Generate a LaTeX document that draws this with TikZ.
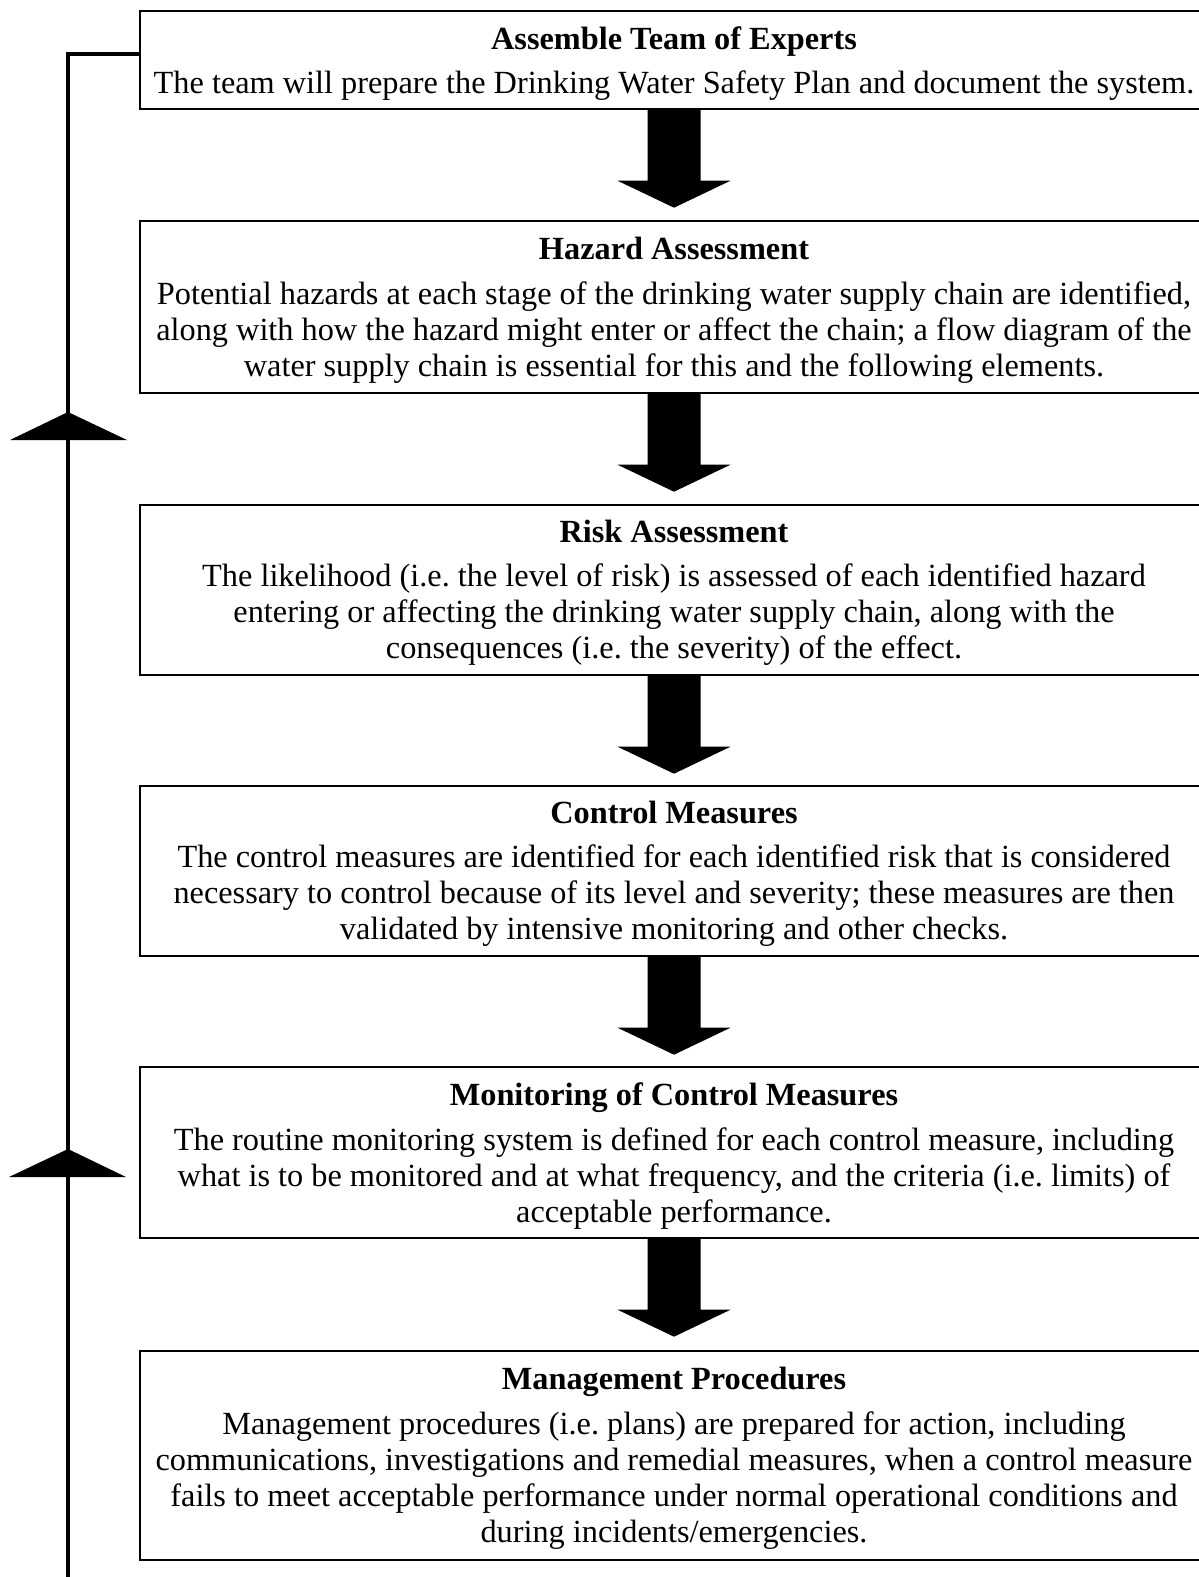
\documentclass[tikz,border=0pt]{standalone}
\usepackage{fontspec}
\setmainfont{Liberation Serif}
\usetikzlibrary{calc}

\tikzset{
  stage/.style={draw, line width=1.4pt, rectangle, minimum width=1068pt,
    inner sep=0pt},
  stagetext/.style={inner sep=0pt, align=center,
    font=\fontsize{32.3}{36}\selectfont\frenchspacing},
  feedback/.style={line width=4.2pt},
  blockarrow/.style={fill=black},
}

% downward block arrow hanging from the bottom of a stage box
\newcommand{\stagearrow}[1]{%
  \fill[blockarrow] ($(#1.south)+(-26.5,0)$) -- ++(0,71) -- ++(-30,0)
    -- ($(#1.south)+(0,98)$) -- ($(#1.south)+(56.5,71)$) -- ++(-30,0)
    -- ($(#1.south)+(26.5,0)$) -- cycle;}

\newcommand{\ttl}[1]{\textbf{#1}\\[8.5pt]}

\begin{document}
\begin{tikzpicture}[x=1pt,y=-1pt]
\useasboundingbox (0,0) rectangle (1199,1577);
\clip (0,0) rectangle (1199,1577);

% stage boxes
\node[stage, minimum height=98pt]  (b1) at (674,60) {};
\node[stage, minimum height=172pt] (b2) at (674,307) {};
\node[stage, minimum height=170pt] (b3) at (674,590) {};
\node[stage, minimum height=170pt] (b4) at (674,871) {};
\node[stage, minimum height=171pt] (b5) at (674,1152.5) {};
\node[stage, minimum height=209pt] (b6) at (674,1455.5) {};

% stage texts
\node[stagetext] (t1) at ([yshift=-3.5pt]b1.center)
  {\ttl{Assemble Team of Experts}
   The team will prepare the Drinking Water Safety Plan and document the system.};

\node[stagetext] (t2) at ([yshift=-3.5pt]b2.center)
  {\ttl{Hazard Assessment}
   Potential hazards at each stage of the drinking water supply chain are identified,\\
   along with how the hazard might enter or affect the chain; a flow diagram of the\\
   water supply chain is essential for this and the following elements.};

\node[stagetext] (t3) at ([yshift=-3pt]b3.center)
  {\ttl{Risk Assessment}
   The likelihood (i.e. the level of risk) is assessed of each identified hazard\\
   entering or affecting the drinking water supply chain, along with the\\
   consequences (i.e. the severity) of the effect.};

\node[stagetext] (t4) at ([yshift=-3pt]b4.center)
  {\ttl{Control Measures}
   The control measures are identified for each identified risk that is considered\\
   necessary to control because of its level and severity; these measures are then\\
   validated by intensive monitoring and other checks.};

\node[stagetext] (t5) at ([yshift=-3.5pt]b5.center)
  {\ttl{Monitoring of Control Measures}
   The routine monitoring system is defined for each control measure, including\\
   what is to be monitored and at what frequency, and the criteria (i.e. limits) of\\
   acceptable performance.};

\node[stagetext] (t6) at ([yshift=-3pt]b6.center)
  {\ttl{Management Procedures}
   Management procedures (i.e. plans) are prepared for action, including\\
   communications, investigations and remedial measures, when a control measure\\
   fails to meet acceptable performance under normal operational conditions and\\
   during incidents/emergencies.};

% flow between the stages
\stagearrow{b1}
\stagearrow{b2}
\stagearrow{b3}
\stagearrow{b4}
\stagearrow{b5}

% feedback loop along the left side
\coordinate (fbBottom) at (68,1580);
\draw[feedback] ([yshift=6pt]b1.west) -| (fbBottom);
\fill[blockarrow] (10,440) -- (68,412) -- (127,440) -- cycle;
\fill[blockarrow] (9,1177) -- (68,1149) -- (126,1177) -- cycle;
\end{tikzpicture}
\end{document}
